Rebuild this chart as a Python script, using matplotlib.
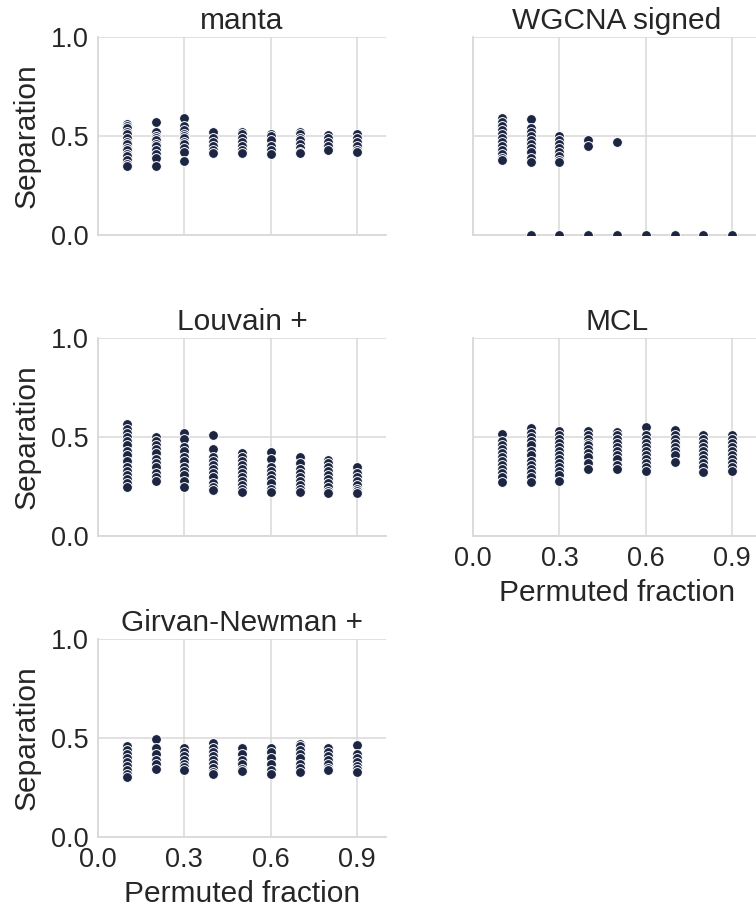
import matplotlib
matplotlib.use("Agg")
import matplotlib.pyplot as plt
import seaborn as sns

sns.set_style("whitegrid")
plt.rcParams['font.family'] = ['Liberation Sans', 'DejaVu Sans']

# permuted fraction of edges, one column of replicates per fraction
fractions = [0.1, 0.2, 0.3, 0.4, 0.5, 0.6, 0.7, 0.8, 0.9]

manta = [
    [0.56, 0.55, 0.54, 0.52, 0.51, 0.49, 0.47, 0.46, 0.44, 0.43, 0.41, 0.40, 0.38, 0.36, 0.35],
    [0.57, 0.52, 0.50, 0.49, 0.48, 0.46, 0.45, 0.43, 0.41, 0.39, 0.35],
    [0.59, 0.55, 0.53, 0.51, 0.50, 0.49, 0.47, 0.46, 0.44, 0.42, 0.375],
    [0.52, 0.49, 0.47, 0.45, 0.43, 0.415],
    [0.52, 0.51, 0.49, 0.47, 0.45, 0.43, 0.415],
    [0.51, 0.50, 0.48, 0.45, 0.43, 0.41],
    [0.52, 0.51, 0.49, 0.48, 0.46, 0.44, 0.42, 0.415],
    [0.505, 0.49, 0.47, 0.45, 0.43],
    [0.51, 0.49, 0.47, 0.45, 0.43, 0.42],
]

wgcna = [
    [0.59, 0.57, 0.55, 0.53, 0.51, 0.49, 0.47, 0.45, 0.43, 0.41, 0.39, 0.38],
    [0.585, 0.54, 0.52, 0.50, 0.48, 0.46, 0.44, 0.42, 0.39, 0.37, 0.0],
    [0.50, 0.48, 0.46, 0.44, 0.42, 0.40, 0.38, 0.37, 0.0],
    [0.48, 0.45, 0.0],
    [0.47, 0.0],
    [0.0],
    [0.0],
    [0.0],
    [0.0],
]

louvain = [
    [0.565, 0.54, 0.52, 0.50, 0.48, 0.46, 0.43, 0.41, 0.38, 0.35, 0.33, 0.31, 0.29, 0.27, 0.25],
    [0.50, 0.48, 0.46, 0.44, 0.42, 0.39, 0.37, 0.35, 0.32, 0.30, 0.28],
    [0.52, 0.49, 0.45, 0.43, 0.40, 0.38, 0.35, 0.33, 0.31, 0.28, 0.25],
    [0.51, 0.44, 0.40, 0.38, 0.36, 0.34, 0.32, 0.30, 0.27, 0.25, 0.235],
    [0.42, 0.40, 0.38, 0.36, 0.34, 0.32, 0.30, 0.28, 0.26, 0.24, 0.22],
    [0.425, 0.39, 0.35, 0.33, 0.31, 0.29, 0.27, 0.24, 0.22],
    [0.40, 0.37, 0.34, 0.32, 0.30, 0.28, 0.26, 0.24, 0.22],
    [0.385, 0.37, 0.35, 0.33, 0.31, 0.29, 0.27, 0.25, 0.23, 0.215],
    [0.35, 0.32, 0.30, 0.28, 0.26, 0.24, 0.23, 0.215],
]

mcl = [
    [0.515, 0.48, 0.46, 0.44, 0.42, 0.40, 0.38, 0.36, 0.34, 0.32, 0.30, 0.275],
    [0.545, 0.52, 0.50, 0.48, 0.46, 0.43, 0.41, 0.38, 0.36, 0.34, 0.32, 0.30, 0.275],
    [0.53, 0.51, 0.49, 0.47, 0.45, 0.43, 0.41, 0.39, 0.37, 0.35, 0.33, 0.31, 0.28],
    [0.53, 0.51, 0.49, 0.47, 0.46, 0.44, 0.42, 0.40, 0.37, 0.34],
    [0.525, 0.51, 0.49, 0.47, 0.45, 0.43, 0.41, 0.39, 0.36, 0.34],
    [0.55, 0.51, 0.49, 0.47, 0.45, 0.43, 0.41, 0.39, 0.37, 0.35, 0.33],
    [0.535, 0.51, 0.49, 0.47, 0.45, 0.43, 0.41, 0.375],
    [0.51, 0.49, 0.47, 0.45, 0.43, 0.41, 0.39, 0.37, 0.35, 0.325],
    [0.51, 0.49, 0.47, 0.45, 0.43, 0.41, 0.39, 0.37, 0.35, 0.33],
]

girvan_newman = [
    [0.46, 0.44, 0.42, 0.40, 0.38, 0.36, 0.34, 0.32, 0.305],
    [0.495, 0.45, 0.42, 0.39, 0.37, 0.345],
    [0.45, 0.43, 0.41, 0.39, 0.37, 0.355, 0.34],
    [0.475, 0.45, 0.43, 0.41, 0.39, 0.37, 0.35, 0.33, 0.32],
    [0.45, 0.42, 0.39, 0.37, 0.345, 0.335],
    [0.45, 0.43, 0.40, 0.37, 0.34, 0.32],
    [0.47, 0.46, 0.44, 0.42, 0.40, 0.37, 0.35, 0.33],
    [0.45, 0.43, 0.41, 0.39, 0.37, 0.35, 0.34],
    [0.465, 0.42, 0.40, 0.38, 0.36, 0.345, 0.33],
]

titles = ["manta", "WGCNA signed", "Louvain +", "MCL", "Girvan-Newman +"]
results = [manta, wgcna, louvain, mcl, girvan_newman]

point_color = '#1c2541'
text_color = '#262626'
line_color = '#d9d9d9'

fig = plt.figure(figsize=(7.56, 9.09), dpi=100)

# facet layout, two columns wrapped
lefts = [0.1296, 0.6257]
bottoms = [0.7415, 0.4103, 0.0792]
w, h = 0.381, 0.2178
slots = [(0, 0), (0, 1), (1, 0), (1, 1), (2, 0)]
bottom_row = {0: 2, 1: 1}  # lowest facet in each column carries x labels

for (row, col), title, res in zip(slots, titles, results):
    ax = fig.add_axes([lefts[col], bottoms[row], w, h])
    xs, ys = [], []
    for f, vals in zip(fractions, res):
        xs += [f] * len(vals)
        ys += vals
    ax.scatter(xs, ys, s=50, color=point_color, edgecolor='white',
               linewidth=0.7, zorder=3)
    ax.set_xlim(0, 1.0)
    ax.set_ylim(0, 1.0)
    ax.set_xticks([0.0, 0.3, 0.6, 0.9])
    ax.set_yticks([0.0, 0.5, 1.0])
    ax.grid(True, color=line_color, linewidth=1.1)
    for side in ['top', 'right']:
        ax.spines[side].set_visible(False)
    for side in ['left', 'bottom']:
        ax.spines[side].set_color(line_color)
        ax.spines[side].set_linewidth(1.3)
    ax.tick_params(axis='both', length=0, pad=7, labelsize=19.5,
                   labelcolor=text_color)
    ax.set_title(title, fontsize=21.5, color=text_color, pad=6)
    if col == 0:
        ax.set_ylabel("Separation", fontsize=21.5, color=text_color, labelpad=7)
    else:
        ax.tick_params(axis='y', labelleft=False)
    if bottom_row[col] == row:
        ax.set_xlabel("Permuted fraction", fontsize=21.5, color=text_color,
                      labelpad=5)
    else:
        ax.tick_params(axis='x', labelbottom=False)

fig.savefig("out.png", dpi=100)
